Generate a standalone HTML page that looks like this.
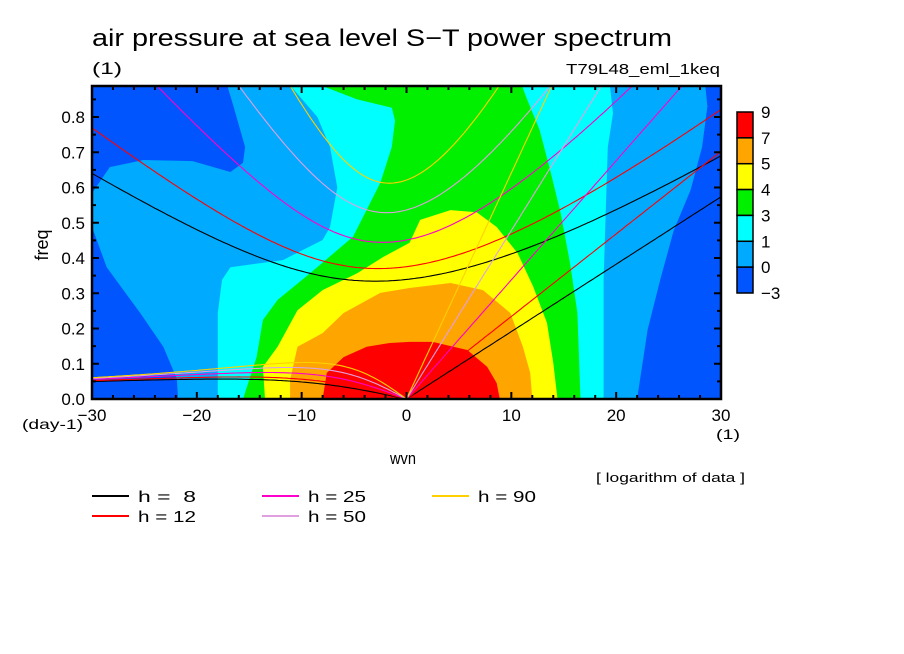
<!DOCTYPE html>
<html><head><meta charset="utf-8"><style>
body{margin:0;background:#fff}
svg{display:block;font-family:"Liberation Sans",sans-serif}
</style></head><body>
<svg id="chart" width="904" height="654" viewBox="0 0 904 654" xmlns="http://www.w3.org/2000/svg">
<rect x="0" y="0" width="904" height="654" fill="#fff"/>
<text x="92" y="46" font-size="24" textLength="580" lengthAdjust="spacingAndGlyphs">air pressure at sea level S−T power spectrum</text>
<text x="92" y="74" font-size="17" textLength="30" lengthAdjust="spacingAndGlyphs">(1)</text>
<text x="566" y="74" font-size="15" textLength="154" lengthAdjust="spacingAndGlyphs">T79L48_eml_1keq</text>
<g id="plot"></g>
<g id="axes"></g>
<text x="390" y="464" font-size="17" textLength="26" lengthAdjust="spacingAndGlyphs">wvn</text>
<text x="48" y="245" font-size="18" text-anchor="middle" transform="rotate(-90 48 245)">freq</text>
<text x="22" y="429" font-size="14" textLength="61" lengthAdjust="spacingAndGlyphs">(day-1)</text>
<text x="716" y="439" font-size="14" textLength="24" lengthAdjust="spacingAndGlyphs">(1)</text>
<text x="596" y="482" font-size="13" textLength="149" lengthAdjust="spacingAndGlyphs">[ logarithm of data ]</text>
<g id="colorbar"></g>
<g id="legend"></g>
</svg>
<script>
// ---- data ----
const levelLabels = ["9","7","5","4","3","1","0","-3"];
const levelColors = ["#ff0000","#ffa500","#ffff00","#00f000","#00ffff","#00aaff","#0055ff"];
const hValues = [8, 12, 25, 50, 90];
const hColors = ["#000000","#ff0000","#ff00cc","#e0a0e0","#ffd000"];
const xTickLabels = [-30,-20,-10,0,10,20,30];
const yTickLabels = ["0.0","0.1","0.2","0.3","0.4","0.5","0.6","0.7","0.8"];
// contour regions in data units [wvn, freq]
const regionDarkTL = [[-30,0.89],[-17.1,0.89],[-16.5,0.83],[-15.4,0.715],[-15.6,0.67],[-16.8,0.644],[-20.4,0.675],[-25.1,0.678],[-28.3,0.658],[-30,0.584]];
const regionDarkBL = [[-30,0.488],[-28.6,0.374],[-25.4,0.244],[-23.2,0.148],[-21.9,0.057],[-21.8,0],[-30,0]];
const regionDarkR = [[28.5,0.89],[28.7,0.83],[28.2,0.715],[27.1,0.593],[25.5,0.479],[24.2,0.338],[23.0,0.196],[22.0,0],[30,0],[30,0.89]];
const regionCyan = [[-11.1,0.89],[-8.5,0.80],[-7.3,0.715],[-6.6,0.60],[-7.3,0.488],[-8.0,0.451],[-11.8,0.394],[-16.8,0.374],[-17.6,0.338],[-18.0,0.244],[-18.0,0],[18.8,0],[18.8,0.338],[19.0,0.528],[19.2,0.715],[19.7,0.81],[19.4,0.89]];
const regionGreen = [[-8.2,0.89],[-4.7,0.85],[-1.4,0.826],[-1.1,0.79],[-1.4,0.715],[-2.5,0.613],[-5.1,0.46],[-9.2,0.357],[-12.3,0.281],[-13.7,0.224],[-14.3,0.119],[-15.6,0],[16.6,0],[16.3,0.244],[15.6,0.386],[14.7,0.528],[13.7,0.65],[12.7,0.763],[11.5,0.85],[11.0,0.89]];
const regionYellow = [[-13.5,0],[-13.7,0.091],[-12.3,0.148],[-10.4,0.252],[-8.0,0.309],[-4.7,0.357],[-2.2,0.403],[0.3,0.443],[1.3,0.508],[4.2,0.536],[6.7,0.53],[8.6,0.488],[10.6,0.414],[12.1,0.318],[13.4,0.216],[14.0,0.102],[14.4,0]];
const regionOrange = [[-11.1,0],[-11.1,0.054],[-10.4,0.148],[-8.0,0.187],[-6.0,0.244],[-2.5,0.301],[0.3,0.315],[4.2,0.329],[7.3,0.309],[9.9,0.244],[11.1,0.148],[11.8,0.074],[12.0,0]];
const regionRed = [[-8.0,0],[-7.6,0.074],[-6.0,0.119],[-3.8,0.148],[-1.6,0.159],[0.3,0.162],[2.5,0.162],[5.8,0.139],[7.7,0.091],[8.6,0.045],[8.9,0]];

// ---- axes ----
const X0=92, X1=721, Y0=399, Y1=86, XMIN=-30, XMAX=30;
function xs(v){return X0+(v-XMIN)/(XMAX-XMIN)*(X1-X0);}
function ys(v){return Y0-v*352.5;}
const NS="http://www.w3.org/2000/svg";
function mk(tag,attrs,parent){const e=document.createElementNS(NS,tag);for(const k in attrs)e.setAttribute(k,attrs[k]);parent.appendChild(e);return e;}
const plot=document.getElementById('plot');
const clip=mk('clipPath',{id:'pc'},plot);
mk('rect',{x:X0,y:Y1,width:X1-X0,height:Y0-Y1},clip);
const g=mk('g',{'clip-path':'url(#pc)'},plot);
let bg=mk('rect',{x:X0,y:Y1,width:X1-X0,height:Y0-Y1,fill:levelColors[5]},g);


function poly(pts,col,name){
  const p=mk('polygon',{points:pts.map(q=>xs(q[0]).toFixed(1)+','+ys(q[1]).toFixed(1)).join(' '),fill:col},g);
  
  
}
poly(regionDarkTL,levelColors[6],'contour-below-0-upper-left');
poly(regionDarkBL,levelColors[6],'contour-below-0-lower-left');
poly(regionDarkR,levelColors[6],'contour-below-0-right');
poly(regionCyan,levelColors[4],'contour-level-1-3');
poly(regionGreen,levelColors[3],'contour-level-3-4');
poly(regionYellow,levelColors[2],'contour-level-4-5');
poly(regionOrange,levelColors[1],'contour-level-5-7');
poly(regionRed,levelColors[0],'contour-level-7-9');

// dispersion curves
const a=6.371e6, beta=2*7.292e-5/a, conv=86400/(2*Math.PI);
function kOf(s){return s/a;}
hValues.forEach((h,i)=>{
  const c=Math.sqrt(9.81*h);
  let kel=[],ig=[],ros=[];
  for(let s=0;s<=30.001;s+=0.25){kel.push([s,c*kOf(s)*conv]);}
  for(let s=-30;s<=30.001;s+=0.25){
    const k=kOf(s);let w=Math.sqrt(c*c*k*k+3*beta*c);
    for(let it=0;it<60;it++){w=Math.sqrt(Math.max(1e-20,c*c*k*k+3*beta*c+c*c*k*beta/w));}
    ig.push([s,w*conv]);
  }
  for(let s=-30;s<=0.001;s+=0.25){const k=kOf(s);ros.push([s,-beta*k/(k*k+3*beta/c)*conv]);}
  [[kel,'kelvin'],[ig,'inertia-gravity'],[ros,'rossby']].forEach(([pts,nm])=>{
    const pl=mk('polyline',{points:pts.map(q=>xs(q[0]).toFixed(1)+','+ys(q[1]).toFixed(1)).join(' '),fill:'none',stroke:hColors[i],'stroke-width':1.1},g);
    
    
  });
});

// frame and ticks
const ax=document.getElementById('axes');
mk('rect',{x:X0,y:Y1,width:X1-X0,height:Y0-Y1,fill:'none',stroke:'#000','stroke-width':2.5},ax);
for(let v=-30;v<=30;v+=2){
  const major=(v%10===0);const L=major?7:4;
  mk('line',{x1:xs(v),x2:xs(v),y1:Y0,y2:Y0-L,stroke:'#000','stroke-width':2},ax);
  mk('line',{x1:xs(v),x2:xs(v),y1:Y1,y2:Y1+L,stroke:'#000','stroke-width':2},ax);
}
for(let j=0;j<=17;j++){
  const v=j*0.05;const major=(j%2===0);const L=major?7:4;
  mk('line',{x1:X0,x2:X0+L,y1:ys(v),y2:ys(v),stroke:'#000','stroke-width':2},ax);
  mk('line',{x1:X1,x2:X1-L,y1:ys(v),y2:ys(v),stroke:'#000','stroke-width':2},ax);
}
xTickLabels.forEach(v=>{
  const t=mk('text',{x:xs(v),y:421,'font-size':17,'text-anchor':'middle'},ax);
  t.textContent=(v<0?'−':'')+Math.abs(v);
  
  
});
yTickLabels.forEach((lab,j)=>{
  const t=mk('text',{x:85,y:ys(j*0.1)+6,'font-size':17,'text-anchor':'end'},ax);
  t.textContent=lab;
  
  
});

// colorbar
const cb=document.getElementById('colorbar');
const cbTop=112, cbH=(293-112)/7;
levelColors.forEach((col,i)=>{
  const r=mk('rect',{x:737,y:cbTop+i*cbH,width:16,height:cbH,fill:col,stroke:'#000','stroke-width':1.5},cb);
  
  
});
levelLabels.forEach((lab,i)=>{
  const t=mk('text',{x:761,y:cbTop+i*cbH+6,'font-size':17},cb);
  t.textContent=lab.replace('-','−');
  
  
});

// legend
const lg=document.getElementById('legend');
const legPos=[[92,496],[92,516],[262,496],[262,516],[432,496]];
hValues.forEach((h,i)=>{
  const [x,y]=legPos[i];
  const ln=mk('line',{x1:x,x2:x+37,y1:y,y2:y,stroke:hColors[i],'stroke-width':2},lg);
  
  
  const t=mk('text',{x:x+46,y:y+6,'font-size':16,textLength:58,lengthAdjust:'spacingAndGlyphs'},lg);
  t.setAttribute('style','white-space:pre');
  t.textContent='h = '+(h<10?' ':'')+h;
  
  
});
</script>
</body></html>
